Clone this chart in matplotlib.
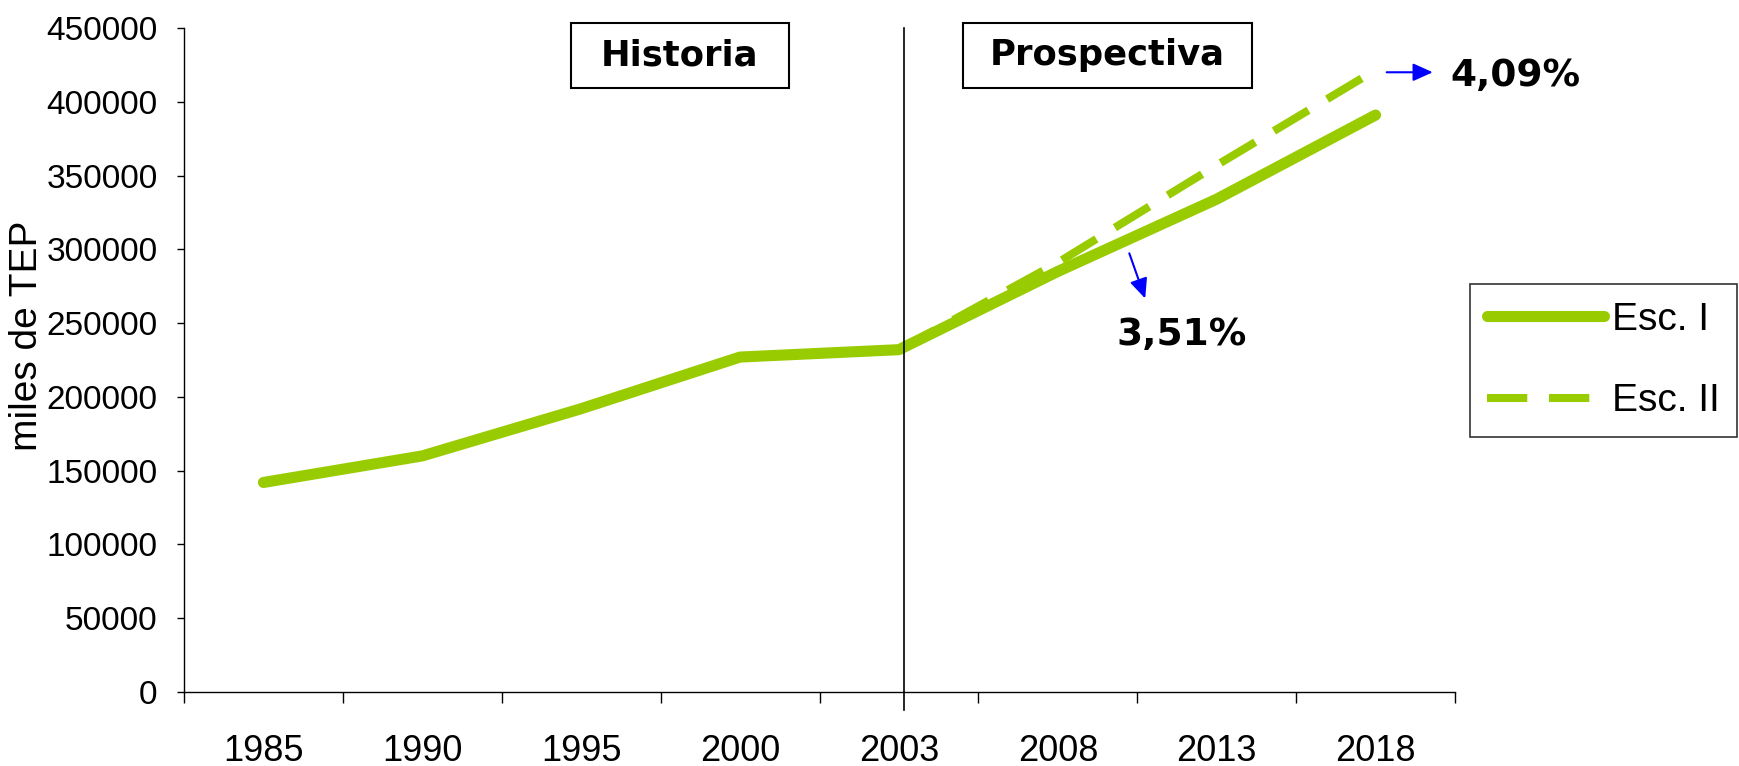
import matplotlib
matplotlib.use('Agg')
import matplotlib.pyplot as plt
from matplotlib import font_manager
from matplotlib.patches import Rectangle

## datos
anios = ['1985', '1990', '1995', '2000', '2003', '2008', '2013', '2018']
esc_1 = [142000, 160000, 192000, 227000, 232000, 285000, 334000, 391000]
esc_2 = [None, None, None, None, 232000, 291000, 357000, 421500]
tasa_esc_1 = '3,51%'
tasa_esc_2 = '4,09%'

verde = '#99CC00'

## fuente estrecha si existe, si no Liberation Sans un poco mas chica
nombres = {f.name for f in font_manager.fontManager.ttflist}
if 'Liberation Sans Narrow' in nombres:
    letra = ['Liberation Sans Narrow', 'DejaVu Sans']
    k = 1.1
else:
    letra = ['Liberation Sans', 'DejaVu Sans']
    k = 1.0

W, H = 1739, 766
fig = plt.figure(figsize=(W / 100, H / 100), dpi=100)
ax = fig.add_axes([184 / W, 1 - 692 / H, (1455 - 184) / W, (692 - 28) / H])

x = list(range(len(anios)))
x2 = [i for i, v in zip(x, esc_2) if v is not None]
y2 = [v for v in esc_2 if v is not None]

ax.plot(x, esc_1, color=verde, lw=8, solid_capstyle='round', label='Esc. I', zorder=3)
ax.plot(x2, y2, color=verde, lw=5.8, dashes=(5, 2.7), dash_capstyle='butt', label='Esc. II', zorder=2)

## ejes
ax.set_xlim(-0.5, len(anios) - 0.5)
ax.set_ylim(0, 450000)
ax.set_yticks(range(0, 450001, 50000))
ax.set_xticks([i - 0.5 for i in range(len(anios) + 1)])
ax.set_xticklabels([])
ax.set_xticks(x, minor=True)
ax.set_xticklabels(anios, minor=True, family=letra, fontsize=26 * k)
ax.tick_params(axis='x', which='major', length=8, width=1, direction='out')
ax.tick_params(axis='x', which='minor', length=0, pad=30)
ax.tick_params(axis='y', length=5, width=1, pad=14)
for lbl in ax.get_yticklabels():
    lbl.set_family(letra)
    lbl.set_fontsize(24 * k)
for s in ['top', 'right']:
    ax.spines[s].set_visible(False)
for s in ['left', 'bottom']:
    ax.spines[s].set_linewidth(1)
    ax.spines[s].set_color('black')

fig.text(27 / W, 1 - 336 / H, 'miles de TEP', rotation=90, ha='center', va='center',
         family=letra, fontsize=28 * k)

## linea de corte 2003
ax.axvline(anios.index('2003') + 0.03, ymin=-18 / 664, ymax=1, color='black', lw=1.2,
           clip_on=False, zorder=4)

## cajas de texto
def caja(x0, y0, x1, y1, texto):
    fig.add_artist(Rectangle((x0 / W, 1 - y1 / H), (x1 - x0) / W, (y1 - y0) / H,
                             transform=fig.transFigure, fill=False, ec='black', lw=1.5))
    fig.text((x0 + x1) / 2 / W, 1 - (y0 + y1) / 2 / H, texto, ha='center', va='center',
             fontsize=25.5, fontweight='bold', family='DejaVu Sans')

caja(571, 23, 789, 88, 'Historia')
caja(963, 23, 1252, 88, 'Prospectiva')

## tasas de crecimiento
flecha = dict(arrowstyle='-|>,head_length=0.6,head_width=0.27', color='blue', lw=1.5,
              mutation_scale=20, shrinkA=0, shrinkB=0)
n = len(anios) - 1
ax.annotate('', xy=(n + 0.36, esc_2[n] - 1500), xytext=(n + 0.07, esc_2[n] - 1500),
            arrowprops=flecha, annotation_clip=False)
ax.text(n + 0.88, esc_2[n] - 4000, tasa_esc_2, ha='center', va='center', fontsize=27,
        fontweight='bold', family='DejaVu Sans')
ax.annotate('', xy=(5.55, 266700), xytext=(5.45, 297300), arrowprops=flecha)
ax.text(5.78, 242000, tasa_esc_1, ha='center', va='center', fontsize=27,
        fontweight='bold', family='DejaVu Sans')

## leyenda
leg = fig.legend(loc='upper right', bbox_to_anchor=(1737 / W, 1 - 284 / H),
                 prop={'family': letra, 'size': 28 * k}, frameon=True, fancybox=False,
                 handlelength=3.0, handletextpad=0.2, labelspacing=1.18, borderpad=0.45,
                 borderaxespad=0)
leg.get_frame().set_edgecolor('black')
leg.get_frame().set_linewidth(1.2)

plt.savefig('out.png', dpi=100)
